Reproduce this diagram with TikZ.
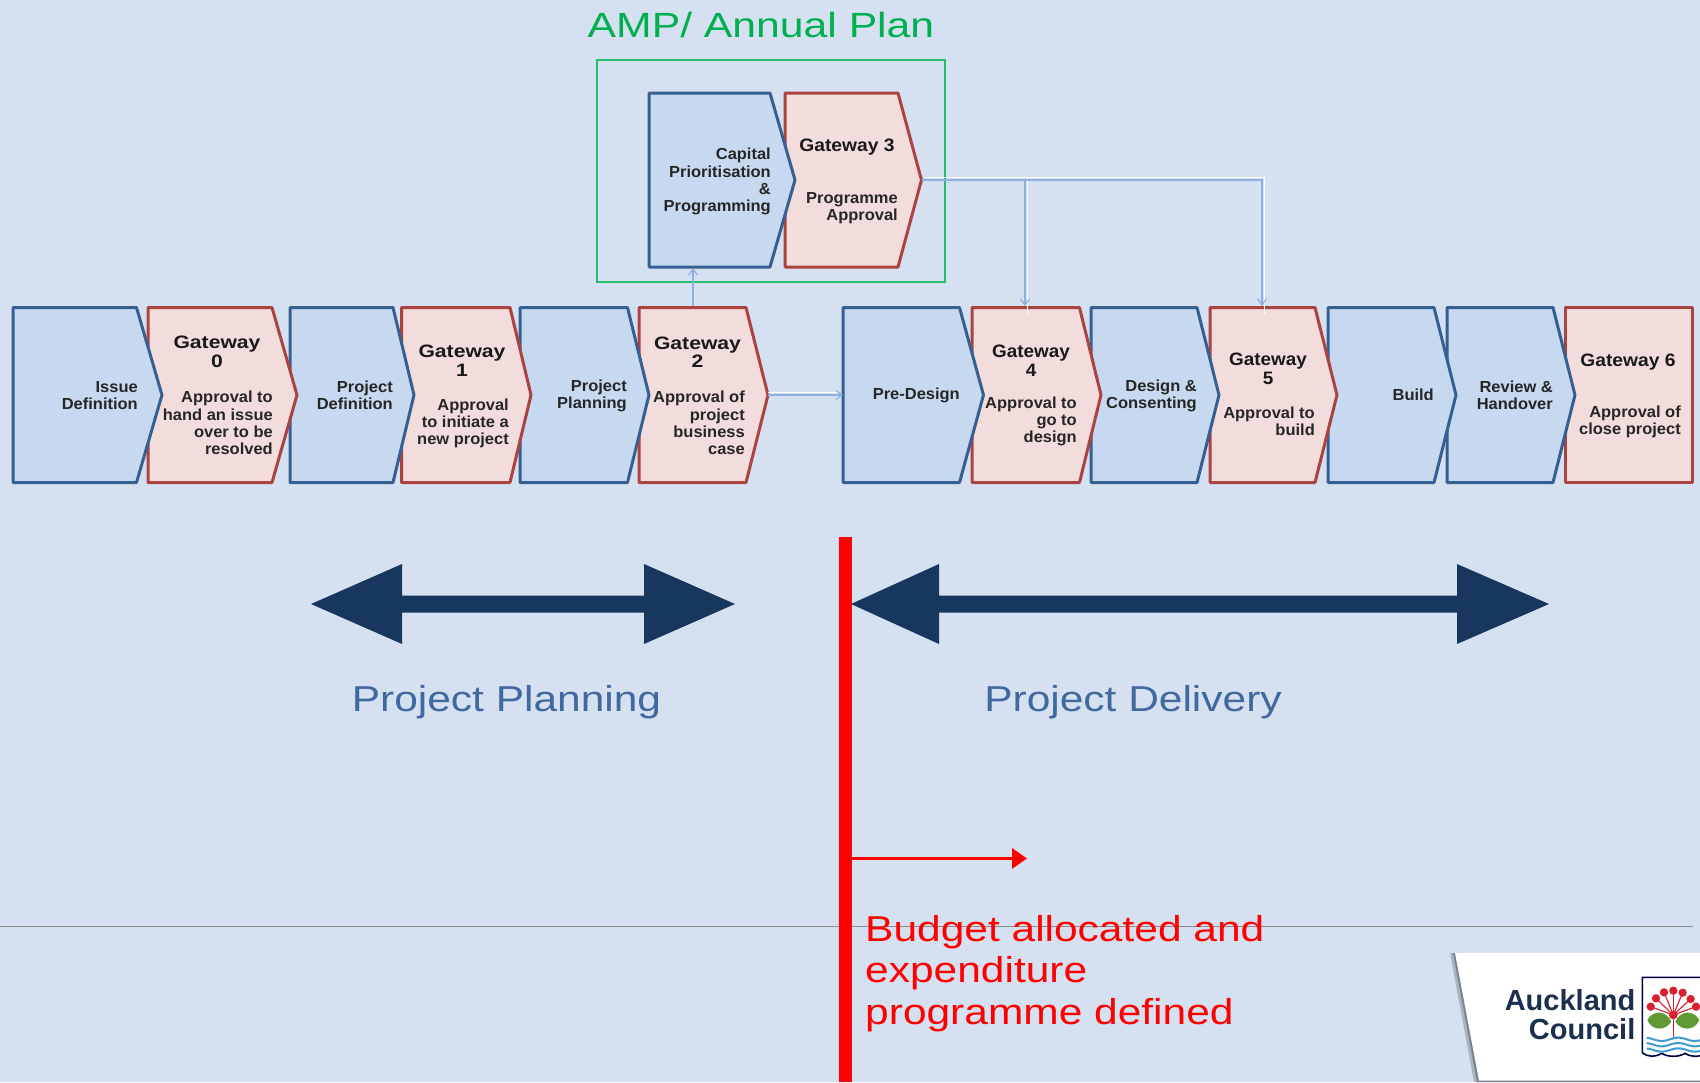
\documentclass[tikz,border=0pt]{standalone}
\usepackage{fontspec}
\setmainfont{Liberation Sans}
\usetikzlibrary{arrows.meta}
\definecolor{bgc}{HTML}{D5E1F1}
\definecolor{bluefill}{HTML}{C6D9F1}
\definecolor{blueline}{HTML}{376092}
\definecolor{pinkfill}{HTML}{F3DDDC}
\definecolor{pinkline}{HTML}{AB4441}
\definecolor{conn}{HTML}{8DB0DE}
\definecolor{navy}{HTML}{17375E}
\definecolor{gtext}{HTML}{00B050}
\definecolor{btext}{HTML}{41699F}
\definecolor{inktext}{HTML}{262626}
\definecolor{logoink}{HTML}{1B2F4E}
\definecolor{logowave}{HTML}{3E9BD0}
\definecolor{logoleaf}{HTML}{5F9A35}
\definecolor{logored}{HTML}{D9202F}
\tikzset{
  bluebox/.style={draw=blueline,fill=bluefill,line width=3pt,line join=round},
  pinkbox/.style={draw=pinkline,fill=pinkfill,line width=3pt,line join=round},
  bodytext/.style={anchor=east,inner sep=0pt,align=right,text=inktext,xscale=1.03,font=\fontsize{16}{17.2}\selectfont\bfseries},
  gatetext/.style={anchor=center,inner sep=0pt,align=center,text=black!90,font=\fontsize{18}{18.5}\selectfont\bfseries},
  linkline/.style={draw=conn,line width=1.5pt,-{Straight Barb[length=6pt,width=9pt,line width=1.2pt]}},
  linkglow/.style={draw=white,line width=1.2pt},
  bigarrow/.style={fill=navy,draw=none},
  phase/.style={anchor=center,inner sep=0pt,text=btext,font=\fontsize{36}{40}\selectfont,xscale=1.18},
  wave/.style={line width=2pt,draw=#1},
}
\newcommand{\chev}[7]{%
  \draw[#7] (#2,#5) -- (#3,#5) -- (#4,{(#5+#6)/2}) -- (#3,#6) -- (#2,#6) -- cycle;
  \coordinate (#1tip) at (#4,{(#5+#6)/2});
  \coordinate (#1left) at (#2,{(#5+#6)/2});
}
\begin{document}
\begin{tikzpicture}[x=1pt,y=-1pt]
\path[use as bounding box] (0,0) rectangle (1700,1082);
\begin{scope}
\clip (0,0) rectangle (1700,1082);
\fill[bgc] (0,0) rectangle (1700,1082);

% thin rule
\draw[draw=black!45,line width=0.9pt] (0,926) -- (1693,926);

% AMP frame
\node[anchor=center,inner sep=0pt,text=gtext,font=\fontsize{35}{40}\selectfont,xscale=1.22] (amp) at (761,25) {AMP/ Annual Plan};
\draw[draw=gtext!85!white,line width=1.6pt] (597,60) rectangle (945,282);

% upper chevrons
\chev{gthree}{785}{898}{921.5}{93}{267}{pinkbox}
\chev{cap}{649}{770}{795}{93}{267}{bluebox}

% main row, later boxes underneath
\draw[pinkbox] (1565,307.5) rectangle (1692,482.5);
\chev{rev}{1447}{1553}{1575}{307.5}{482.5}{bluebox}
\chev{bld}{1328}{1434}{1456}{307.5}{482.5}{bluebox}
\chev{gfive}{1210}{1315}{1337}{307.5}{482.5}{pinkbox}
\chev{des}{1091}{1197}{1219}{307.5}{482.5}{bluebox}
\chev{gfour}{972}{1079.5}{1101}{307.5}{482.5}{pinkbox}
\chev{pre}{843}{959.5}{983.5}{307.5}{482.5}{bluebox}
\chev{gtwo}{639}{746}{768}{307.5}{482.5}{pinkbox}
\chev{pln}{520}{627.5}{649}{307.5}{482.5}{bluebox}
\chev{gone}{401.5}{510}{531}{307.5}{482.5}{pinkbox}
\chev{def}{290}{393}{414}{307.5}{482.5}{bluebox}
\chev{gzero}{148}{272}{297}{307.5}{482.5}{pinkbox}
\chev{iss}{13}{136.5}{162}{307.5}{482.5}{bluebox}

% connector end points
\coordinate (gtwotop) at (693,306);
\coordinate (capbot) at (693,268);
\coordinate (gfourtop) at (1025,306);
\coordinate (gfivetop) at (1262,306);

% connectors
\draw[linkglow] ([xshift=2pt,yshift=2.5pt]gthreetip) -- ([xshift=2.5pt,yshift=2.5pt]gthreetip -| gfivetop) -- ([xshift=2.5pt,yshift=-8pt]gfivetop);
\draw[linkglow] ([xshift=2.5pt,yshift=2.5pt]gthreetip -| gfourtop) -- ([xshift=2.5pt,yshift=-8pt]gfourtop);
\draw[linkglow] ([yshift=2.5pt]gtwotip) -- ([xshift=-6pt,yshift=2.5pt]preleft);
\draw[linkline] (gthreetip) -| (gfourtop);
\draw[linkline] (gthreetip) -| (gfivetop);
\draw[linkline] (gtwotop) -- (capbot);
\draw[linkline] (gtwotip) -- (preleft);

% box texts
\node[bodytext] (capt) at (771,181.5) {Capital\\Prioritisation\\\&\\Programming};
\node[gatetext,xscale=1.07] (g3a) at (847,147) {Gateway 3};
\node[bodytext] (g3b) at (898,208) {Programme\\Approval};

\node[bodytext] (isst) at (138,395.5) {Issue\\Definition};
\node[gatetext,xscale=1.175] (g0a) at (217,352) {Gateway\\0};
\node[bodytext] (g0b) at (273,423) {Approval to\\hand an issue\\over to be\\resolved};
\node[bodytext] (deft) at (393,395.5) {Project\\Definition};
\node[gatetext,xscale=1.175] (g1a) at (462,360.5) {Gateway\\1};
\node[bodytext] (g1b) at (509,423.5) {Approval\\to initiate a\\new project};
\node[bodytext] (plnt) at (627,395.5) {Project\\Planning};
\node[gatetext,xscale=1.175] (g2a) at (697.5,352) {Gateway\\2};
\node[bodytext] (g2b) at (745,423) {Approval of\\project\\business\\case};
\node[bodytext] (pret) at (960,395) {Pre-Design};
\node[gatetext,xscale=1.05] (g4a) at (1031,360.5) {Gateway\\4};
\node[bodytext] (g4b) at (1077,421.5) {Approval to\\go to\\design};
\node[bodytext] (dest) at (1197,395.5) {Design \&\\Consenting};
\node[gatetext,xscale=1.05] (g5a) at (1268,369) {Gateway\\5};
\node[bodytext] (g5b) at (1315,421) {Approval to\\build};
\node[bodytext] (bldt) at (1434,395) {Build};
\node[bodytext] (revt) at (1553,395.5) {Review \&\\Handover};
\node[gatetext,xscale=1.07] (g6a) at (1628,362) {Gateway 6};
\node[bodytext] (g6b) at (1681,422) {Approval of\\close project};

% phase arrows
\fill[bigarrow] (311,604) -- (402,564) -- (402,595.5) -- (644,595.5) -- (644,564) -- (735,604) -- (644,644) -- (644,612.5) -- (402,612.5) -- (402,644) -- cycle;
\fill[bigarrow] (851,604) -- (939,564) -- (939,595.5) -- (1457,595.5) -- (1457,564) -- (1549,604) -- (1457,644) -- (1457,612.5) -- (939,612.5) -- (939,644) -- cycle;
\node[phase] (pplan) at (506.5,702) {Project Planning};
\node[phase] (pdel) at (1133,702) {Project Delivery};

% budget line
\fill[red] (839,537) rectangle (852,1082);
\coordinate (budgetfoot) at (852,858.5);
\coordinate (budgettip) at (1027,858.5);
\draw[red,line width=3.2pt,-{Triangle[length=15pt,width=20pt]}] (budgetfoot) -- (budgettip);
\node[anchor=north west,inner sep=0pt,align=left,text=red,font=\fontsize{36}{41.6}\selectfont,xscale=1.18] (budget) at (865,915) {Budget allocated and\\expenditure\\programme defined};

% logo panel
\fill[black!20!bgc] (1450,953) -- (1700,953) -- (1700,1082) -- (1474,1082) -- cycle;
\fill[black!42!bgc] (1453,953) -- (1700,953) -- (1700,1082) -- (1477,1082) -- cycle;
\fill[white] (1455,953) -- (1700,953) -- (1700,1080.5) -- (1479,1080.5) -- cycle;
\node[anchor=east,inner sep=0pt,align=right,text=logoink,font=\fontsize{29}{29}\selectfont\bfseries] (logotext) at (1635.5,1015) {Auckland\\Council};
\begin{scope}[shift={(1440,940)},x=0.3333pt,y=-0.3333pt]
  \draw[draw=black!75!blue,line width=1.6pt,fill=white] (800,112) -- (607,112) -- (607,338)
     .. controls (625,352) and (645,352) .. (665,340) .. controls (685,352) and (715,352) .. (735,340)
     .. controls (755,352) and (775,352) .. (800,340);
  \foreach \dx/\dy in {632/200,648/175,672/157,700/152,728/158,752/177,768/200} {
    \draw[draw=logored,line width=1.1pt] (700,225) -- (\dx,\dy);
  }
  \foreach \dx/\dy in {632/200,648/175,672/157,700/152,728/158,752/177,768/200} {
    \fill[logored] (\dx,\dy) circle (12.5);
  }
  \fill[logored] (700,225) circle (13);
  \draw[draw=logored,line width=1.2pt] (700,225) -- (700,292);
  \fill[logoleaf] (622,240) .. controls (642,205) and (682,215) .. (694,245) .. controls (675,275) and (635,272) .. (622,240) -- cycle;
  \fill[logoleaf] (778,240) .. controls (758,205) and (718,215) .. (706,245) .. controls (725,275) and (765,272) .. (778,240) -- cycle;
  \foreach \wy in {298,314,330} {
    \draw[wave=logowave] plot[domain=620:790,samples=50] (\x,{\wy+5*sin(3.6*(\x-640))});
  }
\end{scope}
\end{scope}
\end{tikzpicture}
\end{document}
